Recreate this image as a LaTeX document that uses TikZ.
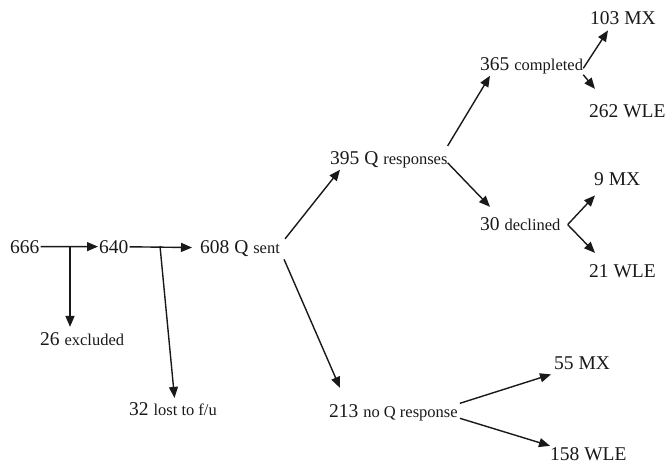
\documentclass[tikz,border=0pt]{standalone}
\usepackage{fontspec}
\setmainfont{Liberation Serif}
\usetikzlibrary{arrows.meta}
\newcommand\smw[1]{{\fontsize{16.5}{19}\selectfont #1}}
\begin{document}
\begin{tikzpicture}[x=1pt,y=-1pt,
  lbl/.style={anchor=base west,inner sep=1pt,text=black!90,font=\fontsize{19.5}{22}\selectfont},
  arr/.style={-{Triangle[length=11pt,width=9pt]},line width=1.4pt,draw=black!90}]
\useasboundingbox (0,0) rectangle (666,464);
\node[lbl] (n666) at (9,253) {666};
\node[lbl] (n640) at (98,253) {640};
\node[lbl] (n608) at (199,253) {608 Q \smw{sent}};
\node[lbl] (exc) at (39,345) {26 \smw{excluded}};
\node[lbl] (lost) at (128,415) {32 \smw{lost to f/u}};
\node[lbl] (resp) at (329,164) {395 Q \smw{responses}};
\node[lbl] (nor) at (328,417) {213 \smw{no Q response}};
\node[lbl] (comp) at (479,70) {365 \smw{completed}};
\node[lbl] (decl) at (479,230) {30 \smw{declined}};
\node[lbl] (mx103) at (589,24) {103 MX};
\node[lbl] (wle262) at (588,117) {262 WLE};
\node[lbl] (mx9) at (593,185) {9 MX};
\node[lbl] (wle21) at (588,277) {21 WLE};
\node[lbl] (mx55) at (553,369) {55 MX};
\node[lbl] (wle158) at (549,460) {158 WLE};
\coordinate (j1) at (70,246);
\coordinate (j2) at (160,246);
\draw[arr] (n666) -- (n640);
\draw[arr,shorten >=7pt] (n640) -- (n608);
\draw[arr] (j1) -- ([yshift=4pt]j1 |- exc.north);
\draw[arr] (j2) -- ([shift={(1.5,-3)}]lost.north);
\draw[arr] ([shift={(4,0)}]n608.north east) -- ([shift={(11,1)}]resp.south west);
\draw[arr] ([shift={(3,2)}]n608.south east) -- ([shift={(12,-15)}]nor.north west);
\draw[arr] ([shift={(-1,-4)}]resp.north east) -- ([shift={(11,1)}]comp.south west);
\draw[arr] ([shift={(-1,3.5)}]resp.east) -- ([shift={(11,-9)}]decl.north west);
\draw[arr] ([shift={(-1,3)}]comp.east) -- ([shift={(19,5)}]mx103.south west);
\draw[arr] ([shift={(-1,0)}]comp.south east) -- ([shift={(7,-14)}]wle262.north west);
\draw[arr] ([shift={(6,1)}]decl.east) -- ([shift={(2,9)}]mx9.south west);
\draw[arr] ([shift={(6,1)}]decl.east) -- ([shift={(7,-10)}]wle21.north west);
\draw[arr] ([shift={(1,-9)}]nor.east) -- ([shift={(-2,4)}]mx55.south west);
\draw[arr] ([shift={(1,6)}]nor.east) -- ([shift={(1,0)}]wle158.north west);
\end{tikzpicture}
\end{document}
